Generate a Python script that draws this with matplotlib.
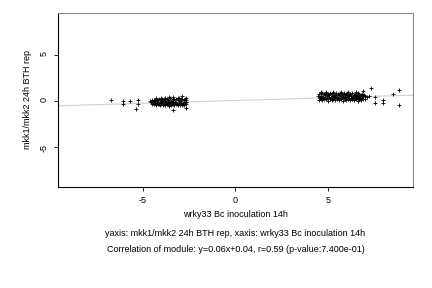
import numpy as np
import matplotlib.pyplot as plt

plt.rcParams['font.family'] = ['Liberation Sans', 'DejaVu Sans']
plt.rcParams['axes.unicode_minus'] = False

# left cluster (wrky33 around -4)
left_x = [-6.75, -6.1, -6.1, -5.7, -5.25, -5.25, -5.4, -4.6,
          -4.55, -4.5, -4.45, -4.4, -4.35, -4.3, -4.25, -4.2, -4.15, -4.1, -4.05, -4.0,
          -3.95, -3.9, -3.85, -3.8, -3.75, -3.7, -3.65, -3.6, -3.55, -3.5, -3.45, -3.4,
          -3.35, -3.3, -3.25, -3.2, -3.15, -3.1, -3.05, -3.0, -2.95, -2.9, -2.85, -2.8,
          -2.75, -2.7, -2.65,
          -4.5, -4.4, -4.3, -4.2, -4.1, -4.0, -3.9, -3.8, -3.7, -3.6, -3.5, -3.4, -3.3,
          -3.2, -3.1, -3.0, -2.9, -2.8, -2.7,
          -4.45, -4.35, -4.25, -4.15, -4.05, -3.95, -3.85, -3.75, -3.65, -3.55, -3.45,
          -3.35, -3.25, -3.15, -3.05, -2.95, -2.85, -2.75, -2.65,
          -4.3, -4.0, -3.8, -3.6, -3.35, -3.1, -2.9, -2.7, -3.6, -3.35, -2.9, -2.7]
left_y = [0.1, 0.0, -0.3, 0.0, 0.1, -0.3, -0.9, 0.0,
          -0.1, 0.05, -0.15, 0.1, -0.05, 0.15, -0.2, 0.05, 0.2, -0.1, 0.1, -0.25,
          0.15, -0.05, 0.25, 0.0, -0.2, 0.2, 0.05, -0.15, 0.3, 0.0, -0.3, 0.15,
          0.05, 0.25, -0.1, 0.2, -0.25, 0.1, 0.3, -0.05, 0.15, 0.25, -0.2, 0.1,
          0.2, -0.1, 0.05,
          -0.3, -0.35, -0.4, -0.3, -0.45, -0.35, -0.4, -0.5, -0.3, -0.45, -0.4, -0.35, -0.5,
          -0.3, -0.45, -0.4, -0.35, -0.45, -0.3,
          -0.2, -0.25, -0.15, -0.3, -0.2, -0.1, -0.3, -0.15, -0.25, -0.2, -0.15,
          -0.3, -0.2, -0.35, -0.25, -0.2, -0.3, -0.25, -0.15,
          0.3, 0.35, 0.3, 0.45, 0.4, 0.35, 0.55, 0.3, -0.6, -1.0, -0.5, -0.75]

# right cluster (wrky33 around 5.5)
right_x = [4.45, 4.5, 4.55, 4.6, 4.65, 4.7, 4.75, 4.8, 4.85, 4.9, 4.95, 5.0,
           5.05, 5.1, 5.15, 5.2, 5.25, 5.3, 5.35, 5.4, 5.45, 5.5, 5.55, 5.6,
           5.65, 5.7, 5.75, 5.8, 5.85, 5.9, 5.95, 6.0, 6.05, 6.1, 6.15, 6.2,
           6.25, 6.3, 6.35, 6.4, 6.45, 6.5, 6.55, 6.6, 6.65, 6.7, 6.75, 6.8,
           6.85, 6.9, 6.95, 7.0, 7.1, 7.2,
           4.5, 4.6, 4.7, 4.8, 4.9, 5.0, 5.1, 5.2, 5.3, 5.4, 5.5, 5.6, 5.7, 5.8,
           5.9, 6.0, 6.1, 6.2, 6.3, 6.4, 6.5, 6.6, 6.7, 6.8, 6.9, 7.0,
           4.55, 4.65, 4.75, 4.85, 4.95, 5.05, 5.15, 5.25, 5.35, 5.45, 5.55, 5.65,
           5.75, 5.85, 5.95, 6.05, 6.15, 6.25, 6.35, 6.45, 6.55, 6.65, 6.75, 6.85,
           4.6, 4.9, 5.3, 5.7, 6.1, 6.5, 6.9, 7.35, 7.57, 7.57, 8.0, 8.0, 8.5, 8.86, 8.86]
right_y = [0.5, 0.7, 0.4, 0.8, 0.55, 0.9, 0.45, 0.7, 0.6, 0.85, 0.5, 0.75,
           0.6, 0.8, 0.45, 0.7, 0.55, 0.85, 0.5, 0.65, 0.8, 0.45, 0.7, 0.6,
           0.85, 0.5, 0.75, 0.55, 0.8, 0.65, 0.45, 0.7, 0.85, 0.5, 0.6, 0.75,
           0.55, 0.8, 0.45, 0.65, 0.7, 0.5, 0.6, 0.85, 0.55, 0.7, 0.45, 0.65,
           0.75, 0.5, 0.6, 0.55, 0.45, 0.5,
           0.1, 0.2, 0.05, 0.15, 0.25, 0.0, 0.2, 0.1, 0.15, 0.05, 0.25, 0.1, 0.2, 0.0,
           0.15, 0.1, 0.25, 0.05, 0.2, 0.1, 0.15, 0.0, 0.2, 0.1, 0.25, 0.15,
           0.35, 0.3, 0.4, 0.3, 0.35, 0.4, 0.3, 0.35, 0.3, 0.4, 0.35, 0.3,
           0.4, 0.35, 0.3, 0.4, 0.35, 0.3, 0.4, 0.35, 0.3, 0.4, 0.35, 0.3,
           0.95, 1.0, 0.95, 1.0, 0.95, 1.0, 1.1, 1.4, 0.4, -0.2, 0.1, -0.2, 0.75, 1.2, -0.4]

slope, intercept = 0.06, 0.04

fig = plt.figure(figsize=(4.32, 2.88), dpi=100)
ax = fig.add_axes([0.134, 0.351, 0.822, 0.604])

xs = np.array([-9.6, 9.6])
ax.plot(xs, slope * xs + intercept, color='#d0d0d0', lw=0.8, zorder=1)
ax.scatter(left_x + right_x, left_y + right_y, marker='+', s=12, c='black',
           linewidths=0.6, zorder=2)

ax.set_xlim(-9.6, 9.6)
ax.set_ylim(-9.3, 9.5)
ax.set_xticks([-5, 0, 5])
ax.set_yticks([-5, 0, 5])
ax.tick_params(labelsize=6.5, length=3, width=0.6, direction='out')
ax.tick_params(axis='y', labelrotation=90)
for s in ['top', 'right']:
    ax.spines[s].set_color('#888888')
    ax.spines[s].set_linewidth(0.8)
for s in ['left', 'bottom']:
    ax.spines[s].set_linewidth(0.8)

ax.set_xlabel('wrky33 Bc inoculation 14h', fontsize=6.5, labelpad=4)
ax.set_ylabel('mkk1/mkk2 24h BTH rep', fontsize=6.5, labelpad=6)

fig.text(0.545, 0.19, 'yaxis: mkk1/mkk2 24h BTH rep, xaxis: wrky33 Bc inoculation 14h',
         ha='center', va='center', fontsize=6.5)
fig.text(0.545, 0.132, 'Correlation of module: y=0.06x+0.04, r=0.59 (p-value:7.400e-01)',
         ha='center', va='center', fontsize=6.5)

fig.savefig('out.png', dpi=100)
